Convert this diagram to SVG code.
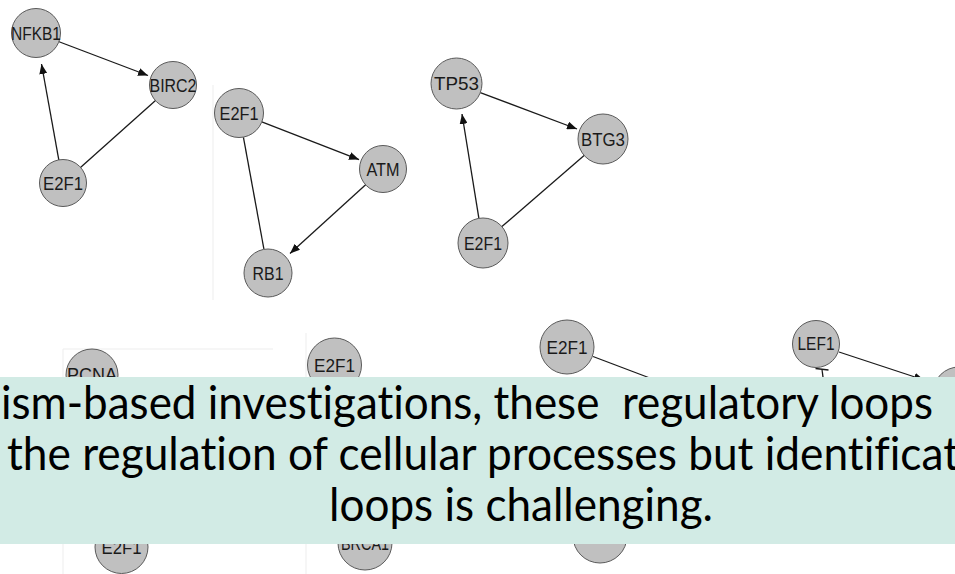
<svg xmlns="http://www.w3.org/2000/svg" width="955" height="574" viewBox="0 0 955 574">
<style>
.n circle{fill:#c0c0c0;stroke:#5a5a5a;stroke-width:1}
.n text{font-family:"Liberation Sans",Arial,sans-serif;font-size:17.5px;fill:#1a1a1a;text-anchor:middle}
.e line{stroke:#1a1a1a;stroke-width:1.3;fill:none}
.a{marker-end:url(#arr)}
.frame{stroke:#ededed;stroke-width:1;fill:none}
.cap{font-family:Lato,"Open Sans",sans-serif;font-size:46.7px;fill:#000;white-space:pre;font-variant-ligatures:none}
</style>
<defs>
<marker id="arr" viewBox="0 0 10 8" refX="10" refY="4" markerWidth="10" markerHeight="8" markerUnits="userSpaceOnUse" orient="auto">
<path d="M0,0 L10,4 L0,8 Z" fill="#111"/>
</marker>
</defs>
<rect width="955" height="574" fill="#ffffff"/>
<g id="frames">
<line class="frame" x1="213" y1="85" x2="213" y2="300"/>
<line class="frame" x1="63" y1="349" x2="273" y2="349"/>
<line class="frame" x1="63" y1="349" x2="63" y2="574"/>
<line class="frame" x1="306" y1="333" x2="306" y2="574"/>
</g>
<g id="connectors" class="e">
<line class="a" x1="58.4" y1="41.5" x2="148" y2="75.5"/>
<line class="a" x1="58.9" y1="160.4" x2="41.5" y2="64"/>
<line x1="155.8" y1="100.3" x2="80.2" y2="167.7"/>
<line class="a" x1="261.8" y1="121.9" x2="359" y2="159.6"/>
<line class="a" x1="365.9" y1="184.4" x2="290" y2="253.5"/>
<line x1="243.4" y1="137.1" x2="263.9" y2="249"/>
<line class="a" x1="480.3" y1="92.6" x2="577" y2="129"/>
<line class="a" x1="478.9" y1="218.3" x2="462" y2="114"/>
<line x1="584.1" y1="155.4" x2="501.9" y2="226.6"/>
<line x1="593" y1="356.5" x2="700" y2="397"/>
<line class="a" x1="839" y1="352" x2="924" y2="380"/>
<line x1="822" y1="369.5" x2="826" y2="400"/>
<line x1="815.5" y1="368.5" x2="828.5" y2="370"/>
</g>
<g id="n-nfkb1" class="n"><circle cx="36" cy="33" r="24.5"/><text x="36" y="39.5" textLength="50" lengthAdjust="spacingAndGlyphs">NFKB1</text></g>
<g id="n-birc2" class="n"><circle cx="173" cy="85" r="23.5"/><text x="173" y="91.5" textLength="47" lengthAdjust="spacingAndGlyphs">BIRC2</text></g>
<g id="n-e2f1-a" class="n"><circle cx="63" cy="183" r="23.5"/><text x="63" y="189.5" textLength="40" lengthAdjust="spacingAndGlyphs">E2F1</text></g>
<g id="n-e2f1-b" class="n"><circle cx="239" cy="113" r="24.5"/><text x="239" y="119.5" textLength="39" lengthAdjust="spacingAndGlyphs">E2F1</text></g>
<g id="n-atm" class="n"><circle cx="383" cy="169" r="23.5"/><text x="383" y="175.5" textLength="33" lengthAdjust="spacingAndGlyphs">ATM</text></g>
<g id="n-rb1" class="n"><circle cx="268" cy="273" r="24"/><text x="268" y="279.5" textLength="31" lengthAdjust="spacingAndGlyphs">RB1</text></g>
<g id="n-tp53" class="n"><circle cx="456.5" cy="83.5" r="25.5"/><text x="456.5" y="90" textLength="45" lengthAdjust="spacingAndGlyphs">TP53</text></g>
<g id="n-btg3" class="n"><circle cx="603" cy="139" r="25"/><text x="603" y="145.5" textLength="44" lengthAdjust="spacingAndGlyphs">BTG3</text></g>
<g id="n-e2f1-c" class="n"><circle cx="483" cy="243" r="25"/><text x="483" y="249.5" textLength="38" lengthAdjust="spacingAndGlyphs">E2F1</text></g>
<g id="n-pcna" class="n"><circle cx="92" cy="375" r="26"/><text x="92" y="381" textLength="50" lengthAdjust="spacingAndGlyphs">PCNA</text></g>
<g id="n-e2f1-d" class="n"><circle cx="334.5" cy="365" r="27"/><text x="334.5" y="372" textLength="41" lengthAdjust="spacingAndGlyphs">E2F1</text></g>
<g id="n-e2f1-e" class="n"><circle cx="567" cy="347" r="27"/><text x="567" y="354" textLength="41" lengthAdjust="spacingAndGlyphs">E2F1</text></g>
<g id="n-lef1" class="n"><circle cx="816" cy="344" r="23.5"/><text x="816" y="350" font-size="15.5" textLength="37" lengthAdjust="spacingAndGlyphs">LEF1</text></g>
<g id="n-right" class="n"><circle cx="959" cy="393" r="26"/></g>
<g id="n-e2f1-f" class="n"><circle cx="121.5" cy="547" r="26.5"/><text x="121.5" y="554" textLength="40" lengthAdjust="spacingAndGlyphs">E2F1</text></g>
<g id="n-brca1" class="n"><circle cx="365" cy="543" r="27"/><text x="365" y="550" textLength="48" lengthAdjust="spacingAndGlyphs">BRCA1</text></g>
<g id="n-bottom" class="n"><circle cx="600" cy="536" r="27"/></g>
<g id="caption">
<rect x="0" y="377" width="955" height="167" fill="#d2ebe5"/>
<text class="cap" x="1" y="419" textLength="932" lengthAdjust="spacingAndGlyphs">ism-based investigations, these  regulatory loops</text>
<text class="cap" x="7" y="470" textLength="952" lengthAdjust="spacingAndGlyphs">the regulation of cellular processes but identificat</text>
<text class="cap" x="329" y="521" textLength="384" lengthAdjust="spacingAndGlyphs">loops is challenging.</text>
</g>
</svg>
